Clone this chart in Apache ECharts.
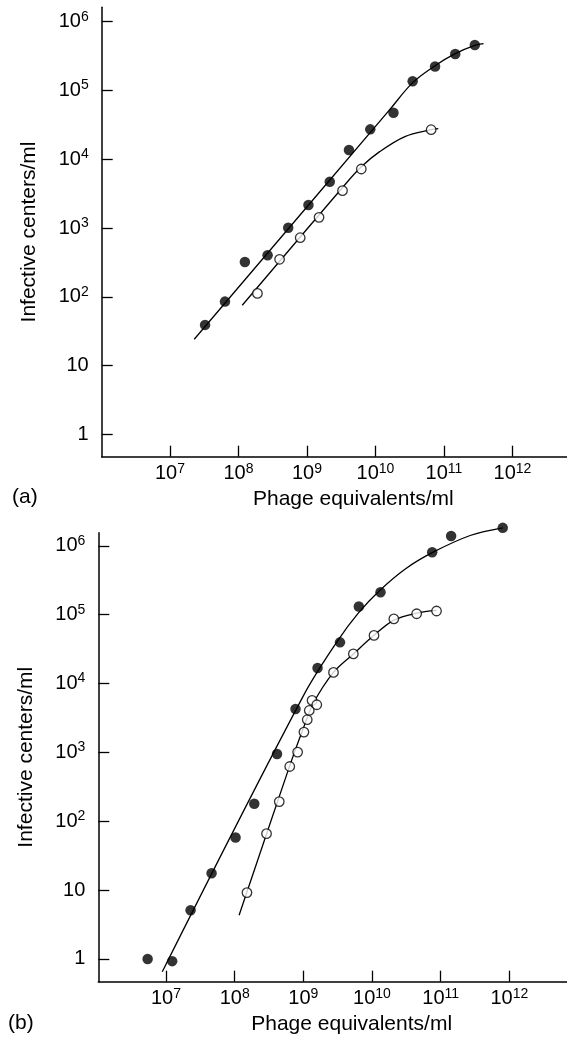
<!DOCTYPE html>
<html><head><meta charset="utf-8">
<script src="https://cdn.jsdelivr.net/npm/echarts@6/dist/echarts.min.js"></script>
<style>html,body{margin:0;padding:0;background:#fff}#c{width:567px;height:1037px}</style>
</head><body><div id="c"></div>
<script>
// ---- tick values ----
const xTicks = [1e7, 1e8, 1e9, 1e10, 1e11, 1e12];
const yTicks = [1, 10, 100, 1e3, 1e4, 1e5, 1e6];

// ---- panel (a) ----
const aFilledX = [3.25e7, 6.35e7, 1.24e8, 2.66e8, 5.32e8, 1.05e9, 2.15e9, 4.10e9, 8.39e9, 1.83e10, 3.49e10, 7.41e10, 1.46e11, 2.82e11];
const aFilledY = [39, 85, 321, 401, 1010, 2160, 4710, 13600, 27200, 47500, 136000, 224000, 339000, 458000];
const aOpenX = [1.89e8, 3.98e8, 7.96e8, 1.50e9, 3.30e9, 6.21e9, 6.49e10];
const aOpenY = [112, 351, 723, 1430, 3490, 7210, 26900];
const aFilledCurveX = [2.26e7, 1.58e10, 3.47e10, 7.41e10, 1.46e11, 2.82e11, 3.78e11];
const aFilledCurveY = [24.1, 51300, 129000, 229000, 343000, 452000, 479000];
const aOpenCurveX = [1.135e8, 3.55e9, 6.21e9, 1.15e10, 2.69e10, 6.49e10, 8.26e10];
const aOpenCurveY = [75.2, 4220, 7760, 12900, 21400, 26900, 27900];

// ---- panel (b) ----
const bFilledX = [5.40e6, 1.23e7, 2.28e7, 4.61e7, 1.03e8, 1.93e8, 4.14e8, 7.69e8, 1.61e9, 3.42e9, 6.43e9, 1.33e10, 7.53e10, 1.42e11, 8.02e11];
const bFilledY = [1.0, 0.93, 5.1, 17.6, 58, 179, 945, 4260, 16800, 39600, 131000, 211000, 805000, 1390000, 1820000];
const bOpenX = [1.51e8, 2.91e8, 4.46e8, 6.34e8, 8.26e8, 1.02e9, 1.14e9, 1.22e9, 1.34e9, 1.57e9, 2.75e9, 5.35e9, 1.07e10, 2.08e10, 4.47e10, 8.71e10];
const bOpenY = [9.2, 66, 193, 624, 1010, 1970, 2980, 4060, 5680, 4920, 14500, 26900, 50000, 86700, 103000, 113000];
const bFilledCurveX = [8.83e6, 1e9, 3.16e9, 6.31e9, 1.26e10, 3.02e10, 7.53e10, 2.69e11, 8.02e11];
const bFilledCurveY = [0.653, 6610, 41700, 105000, 219000, 457000, 794000, 1410000, 1820000];
const bOpenCurveX = [1.16e8, 6.31e8, 1e9, 1.41e9, 2.75e9, 5.37e9, 1.07e10, 2.09e10, 4.47e10, 8.71e10];
const bOpenCurveY = [4.32, 631, 2240, 5250, 14500, 26900, 50100, 83200, 105000, 115000];

const FONT = '"Liberation Sans", Arial, Helvetica, sans-serif';
const zip = (xs, ys) => xs.map((x, i) => [x, ys[i]]);

function fmt(v) {
  const l = Math.log10(v), e = Math.round(l);
  if (Math.abs(l - e) > 0.01) return '';
  if (e === 0) return '{b|1}';
  if (e === 1) return '{b|10}';
  return '{b|10}{s|' + e + '}';
}
const rich = {
  b: { fontSize: 20, fontFamily: FONT, color: '#000', lineHeight: 24 },
  s: { fontSize: 14, fontFamily: FONT, color: '#000', verticalAlign: 'top', lineHeight: 16 }
};

function xAxis(gi, min, max) {
  return {
    gridIndex: gi, type: 'log', logBase: 10, min: min, max: max,
    axisLine: { lineStyle: { color: '#000', width: 1.5 } },
    axisTick: { inside: true, length: 11, lineStyle: { color: '#000', width: 1.3 }, customValues: xTicks },
    axisLabel: { customValues: xTicks, formatter: fmt, rich: rich, margin: 5, color: '#000' },
    splitLine: { show: false },
    name: 'Phage equivalents/ml', nameLocation: 'middle', nameGap: 32,
    nameTextStyle: { fontSize: 21, fontFamily: FONT, color: '#000', padding: [0, 0, 0, 38] }
  };
}
function yAxis(gi, min, max) {
  return {
    gridIndex: gi, type: 'log', logBase: 10, min: min, max: max,
    axisLine: { lineStyle: { color: '#000', width: 1.5 } },
    axisTick: { inside: true, length: 11, lineStyle: { color: '#000', width: 1.3 }, customValues: yTicks },
    axisLabel: { customValues: yTicks, formatter: fmt, rich: rich, margin: 13, color: '#000' },
    splitLine: { show: false },
    name: 'Infective centers/ml', nameLocation: 'middle', nameGap: 62, nameRotate: 90,
    nameTextStyle: { fontSize: 21, fontFamily: FONT, color: '#000' }
  };
}
function curve(xi, xs, ys) {
  return { type: 'line', xAxisIndex: xi, yAxisIndex: xi, data: zip(xs, ys), smooth: 0.35, showSymbol: false,
    lineStyle: { color: '#000', width: 1.3 }, z: 2, silent: true, clip: false };
}
function pts(xi, xs, ys, open) {
  return { type: 'scatter', xAxisIndex: xi, yAxisIndex: xi, data: zip(xs, ys), symbol: 'circle',
    symbolSize: open ? 9.5 : 10.5,
    itemStyle: open ? { color: '#fff', borderColor: '#000', borderWidth: 1.3 } : { color: '#000' },
    z: 3, silent: true, clip: false };
}

const chart = echarts.init(document.getElementById('c'), null, { renderer: 'canvas' });
chart.setOption({
  animation: false,
  backgroundColor: '#fff',
  textStyle: { fontFamily: FONT },
  grid: [
    { left: 101.7, top: 7.3, right: 0, height: 449.4 },
    { left: 98.3, top: 532.7, right: 0, height: 449 }
  ],
  xAxis: [xAxis(0, Math.pow(10, 6.003), Math.pow(10, 12.796)), xAxis(1, Math.pow(10, 6.014), Math.pow(10, 12.84))],
  yAxis: [yAxis(0, Math.pow(10, -0.326), Math.pow(10, 6.21)), yAxis(1, Math.pow(10, -0.33), Math.pow(10, 6.19))],
  graphic: [
    { type: 'text', left: 12, top: 487, style: { text: '(a)', font: '21px ' + FONT, fill: '#000' } },
    { type: 'text', left: 8, top: 1013, style: { text: '(b)', font: '21px ' + FONT, fill: '#000' } }
  ],
  series: [
    curve(0, aFilledCurveX, aFilledCurveY),
    curve(0, aOpenCurveX, aOpenCurveY),
    pts(0, aFilledX, aFilledY, false),
    pts(0, aOpenX, aOpenY, true),
    curve(1, bFilledCurveX, bFilledCurveY),
    curve(1, bOpenCurveX, bOpenCurveY),
    pts(1, bFilledX, bFilledY, false),
    pts(1, bOpenX, bOpenY, true)
  ]
});
</script></body></html>
